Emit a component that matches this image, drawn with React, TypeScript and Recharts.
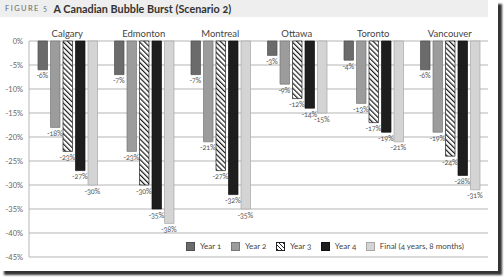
import React from 'react';
import { BarChart, Bar, XAxis, YAxis, CartesianGrid, LabelList, Legend } from 'recharts';

// Cities (categories)
const cities = ['Calgary', 'Edmonton', 'Montreal', 'Ottawa', 'Toronto', 'Vancouver'];

// Cumulative house price change, % (one array per period)
const year1 = [-6, -7, -7, -3, -4, -6];
const year2 = [-18, -23, -21, -9, -13, -19];
const year3 = [-23, -30, -27, -12, -17, -24];
const year4 = [-27, -35, -32, -14, -19, -28];
const final = [-30, -38, -35, -15, -21, -31];

// Y-axis ticks
const yTicks = [0, -5, -10, -15, -20, -25, -30, -35, -40, -45];

const seriesNames = ['Year 1', 'Year 2', 'Year 3', 'Year 4', 'Final (4 years, 8 months)'];
const seriesKeys = ['y1', 'y2', 'y3', 'y4', 'fin'];

const data = cities.map((city, i) => ({
  city,
  y1: year1[i],
  y2: year2[i],
  y3: year3[i],
  y4: year4[i],
  fin: final[i],
}));

const FONT = 'Lato, "Open Sans", "DejaVu Sans", sans-serif';

const styles = [
  { fill: '#6b6b6b', stroke: '#4f4f4f', swatch: '#6b6b6b' },
  { fill: '#9c9c9c', stroke: '#777777', swatch: '#9c9c9c' },
  { fill: 'url(#hatch3)', stroke: '#222222', swatch: 'repeating-linear-gradient(45deg, #222 0 1px, #fff 1px 3px)' },
  { fill: '#1e1e1e', stroke: '#111111', swatch: '#1e1e1e' },
  { fill: '#d4d4d4', stroke: '#a8a8a8', swatch: '#d4d4d4' },
];

const pct = (v: number) => `${v}%`;

const ValueLabel = (props: any) => {
  const { x, y, width, height, value } = props;
  const bottom = y + Math.max(height, 0);
  return (
    <text
      x={x + width / 2 - 0.5}
      y={bottom + 8.5}
      textAnchor="middle"
      fontSize={7.2}
      letterSpacing={-0.2}
      fill="#555"
      fontFamily={FONT}
      style={{ fontVariantNumeric: 'oldstyle-nums' }}
    >
      {pct(value)}
    </text>
  );
};

const LegendContent = () => (
  <div style={{ display: 'flex', alignItems: 'center', fontFamily: FONT, fontSize: 8, color: '#444', fontVariantNumeric: 'oldstyle-nums', whiteSpace: 'nowrap' }}>
    {seriesNames.map((name, i) => (
      <div key={name} style={{ display: 'flex', alignItems: 'center', marginRight: 9.5 }}>
        <span
          style={{
            display: 'inline-block',
            width: 7,
            height: 7,
            background: styles[i].swatch,
            border: `1px solid ${styles[i].stroke}`,
            marginRight: 5,
          }}
        />
        <span>{name}</span>
      </div>
    ))}
  </div>
);

export default function App() {
  return (
    <div style={{ position: 'absolute', left: 0, top: 0, width: 498, height: 271, background: '#fff', boxShadow: '4px 4px 2px #333' }}>
      <div
        style={{
          position: 'absolute',
          left: 0,
          top: 0,
          width: 488,
          height: 17,
          background: '#eeeeee',
          fontFamily: FONT,
          display: 'flex',
          alignItems: 'center',
        }}
      >
        <span style={{ marginLeft: 5, fontSize: 7.5, letterSpacing: 1.4, color: '#666', fontVariantNumeric: 'oldstyle-nums' }}>FIGURE 5</span>
        <span style={{ marginLeft: 5, fontSize: 10.8, fontWeight: 700, color: '#333', fontVariantNumeric: 'oldstyle-nums' }}>
          A Canadian Bubble Burst (Scenario 2)
        </span>
      </div>
      <div style={{ position: 'absolute', left: 0, top: 0 }}>
        <BarChart
          width={498}
          height={271}
          data={data}
          margin={{ top: 21, right: 10, bottom: 14, left: 0 }}
          barSize={9.5}
          barGap={3}
        >
          <defs>
            <pattern id="hatch3" patternUnits="userSpaceOnUse" width={3.6} height={3.6} patternTransform="rotate(-45)">
              <rect width={3.6} height={3.6} fill="#fff" />
              <line x1={0.6} y1={0} x2={0.6} y2={3.6} stroke="#1a1a1a" strokeWidth={1.2} />
            </pattern>
          </defs>
          <CartesianGrid vertical={false} stroke="#b5b5b5" strokeWidth={1} />
          <XAxis
            dataKey="city"
            orientation="top"
            height={20}
            axisLine={false}
            tickLine={false}
            tickSize={0}
            tickMargin={4}
            interval={0}
            tick={{ fontSize: 9.5, fill: '#444', fontFamily: FONT }}
          />
          <YAxis
            type="number"
            domain={[-45, 0]}
            ticks={yTicks}
            width={29}
            interval={0}
            tickFormatter={pct}
            axisLine={{ stroke: '#b5b5b5' }}
            tickLine={false}
            tickSize={0}
            tickMargin={6}
            tick={{ fontSize: 7.5, fill: '#666', fontFamily: FONT }}
          />
          {seriesKeys.map((key, i) => (
            <Bar
              key={key}
              dataKey={key}
              name={seriesNames[i]}
              fill={styles[i].fill}
              stroke={styles[i].stroke}
              strokeWidth={0.7}
              isAnimationActive={false}
            >
              <LabelList dataKey={key} content={ValueLabel} />
            </Bar>
          ))}
          <Legend
            layout="horizontal"
            verticalAlign="middle"
            align="center"
            content={LegendContent}
            wrapperStyle={{ left: 186, top: 241, width: 300, height: 12 }}
          />
        </BarChart>
      </div>
    </div>
  );
}
